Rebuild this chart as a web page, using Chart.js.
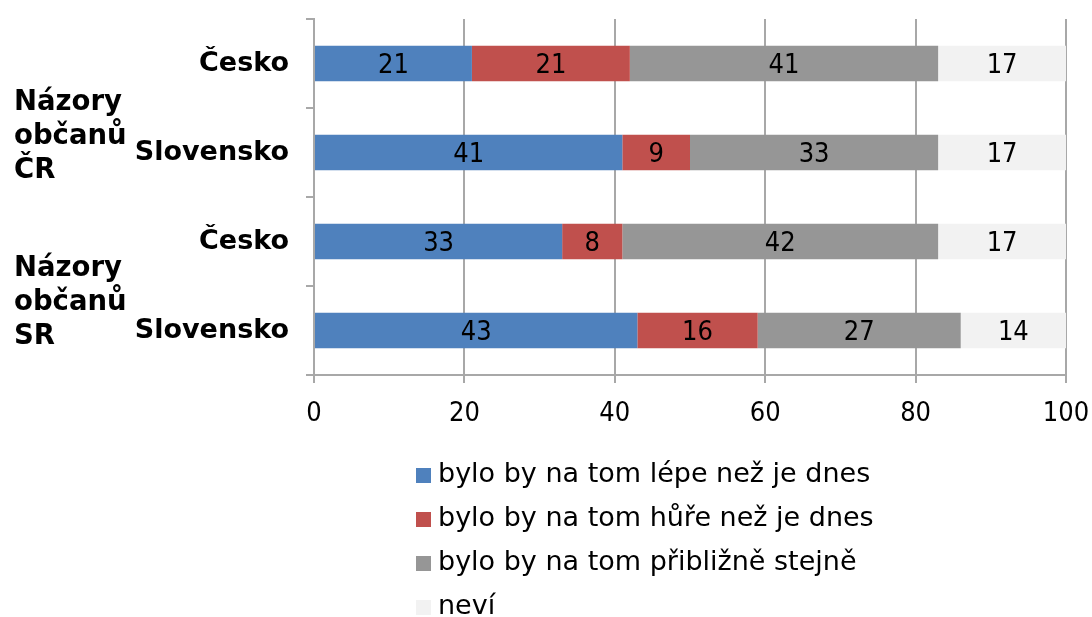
<!DOCTYPE html>
<html>
<head>
<meta charset="utf-8">
<script src="https://cdn.jsdelivr.net/npm/chart.js@4"></script>
<style>
  html, body { margin: 0; padding: 0; background: #fff; }
  #wrap { width: 1092px; height: 617px; }
</style>
</head>
<body>
<div id="wrap"><canvas id="chart" width="1092" height="617"></canvas></div>
<script>
// rows, top to bottom
const rows = ['Česko', 'Slovensko', 'Česko', 'Slovensko'];
const groups = [['Názory', 'občanů', 'ČR'], ['Názory', 'občanů', 'SR']];
const groupRows = [[0, 1], [2, 3]];
const groupShift = [29, 17];

const seriesNames = [
    'bylo by na tom lépe než je dnes',
    'bylo by na tom hůře než je dnes',
    'bylo by na tom přibližně stejně',
    'neví'
];
const better = [21, 41, 33, 43];
const worse = [21, 9, 8, 16];
const same = [41, 33, 42, 27];
const dontKnow = [17, 17, 17, 14];
const colors = ['#4F81BD', '#C0504D', '#969696', '#F2F2F2'];
const xTicks = [0, 20, 40, 60, 80, 100];

const gridColor = '#A8A8A8';
const numFont = '27px "DejaVu Sans Condensed", "DejaVu Sans", sans-serif';

// value labels in the middle of every bar segment
const valueLabels = {
    id: 'valueLabels',
    afterDatasetsDraw(chart) {
        const ctx = chart.ctx;
        ctx.save();
        ctx.font = numFont;
        ctx.fillStyle = '#000';
        ctx.textAlign = 'center';
        ctx.textBaseline = 'middle';
        chart.data.datasets.forEach((ds, i) => {
            chart.getDatasetMeta(i).data.forEach((bar, j) => {
                ctx.fillText(String(ds.data[j]), (bar.x + bar.base) / 2, bar.y + 2);
            });
        });
        ctx.restore();
    }
};

// outer group labels on the far left
const groupLabels = {
    id: 'groupLabels',
    afterDraw(chart) {
        const ctx = chart.ctx;
        const y = chart.scales.y;
        ctx.save();
        ctx.font = 'bold 27.5px "DejaVu Sans", sans-serif';
        ctx.fillStyle = '#000';
        ctx.textAlign = 'left';
        ctx.textBaseline = 'middle';
        groups.forEach((lines, g) => {
            const [a, b] = groupRows[g];
            const mid = (y.getPixelForValue(a) + y.getPixelForValue(b)) / 2 + groupShift[g];
            const lh = 34;
            lines.forEach((t, k) => {
                ctx.fillText(t, 14, mid + (k - (lines.length - 1) / 2) * lh);
            });
        });
        ctx.restore();
    }
};

// legend as a vertical list under the plot
const listLegend = {
    id: 'listLegend',
    afterDraw(chart) {
        const ctx = chart.ctx;
        ctx.save();
        ctx.font = '27px "DejaVu Sans", sans-serif';
        ctx.textAlign = 'left';
        ctx.textBaseline = 'middle';
        chart.data.datasets.forEach((ds, i) => {
            const cy = 475 + i * 44;
            ctx.fillStyle = ds.backgroundColor;
            ctx.fillRect(416, cy - 7, 15, 15);
            ctx.fillStyle = '#000';
            ctx.fillText(ds.label, 438, cy);
        });
        ctx.restore();
    }
};

function noOverflow(scale) {
    scale.paddingTop = 0;
    scale.paddingBottom = 0;
    scale.paddingLeft = 0;
    scale.paddingRight = 0;
}

const values = [better, worse, same, dontKnow];

new Chart(document.getElementById('chart'), {
    type: 'bar',
    data: {
        labels: rows,
        datasets: values.map((d, i) => ({
            label: seriesNames[i],
            data: d,
            backgroundColor: colors[i],
            borderWidth: 0,
            categoryPercentage: 1,
            barPercentage: 0.4
        }))
    },
    options: {
        indexAxis: 'y',
        responsive: false,
        animation: false,
        layout: { padding: { top: 19, right: 26, left: 0, bottom: 0 } },
        plugins: {
            legend: { display: false },
            tooltip: { enabled: false }
        },
        scales: {
            x: {
                stacked: true,
                min: 0,
                max: 100,
                afterBuildTicks(scale) {
                    scale.ticks = xTicks.map(v => ({ value: v }));
                },
                afterFit(scale) { scale.height = 242; noOverflow(scale); },
                grid: { color: gridColor, tickLength: 8, lineWidth: 2 },
                border: { color: gridColor, width: 2 },
                ticks: {
                    color: '#000',
                    padding: 15,
                    maxRotation: 0,
                    font: { family: '"DejaVu Sans Condensed", "DejaVu Sans", sans-serif', size: 27 }
                }
            },
            y: {
                stacked: true,
                afterFit(scale) { scale.width = 314; noOverflow(scale); },
                grid: { drawOnChartArea: false, color: gridColor, tickLength: 8, lineWidth: 2 },
                border: { color: gridColor, width: 2 },
                ticks: {
                    color: '#000',
                    padding: 17,
                    font: { family: '"DejaVu Sans", sans-serif', size: 27, weight: 'bold' }
                }
            }
        }
    },
    plugins: [valueLabels, groupLabels, listLegend]
});
</script>
</body>
</html>
